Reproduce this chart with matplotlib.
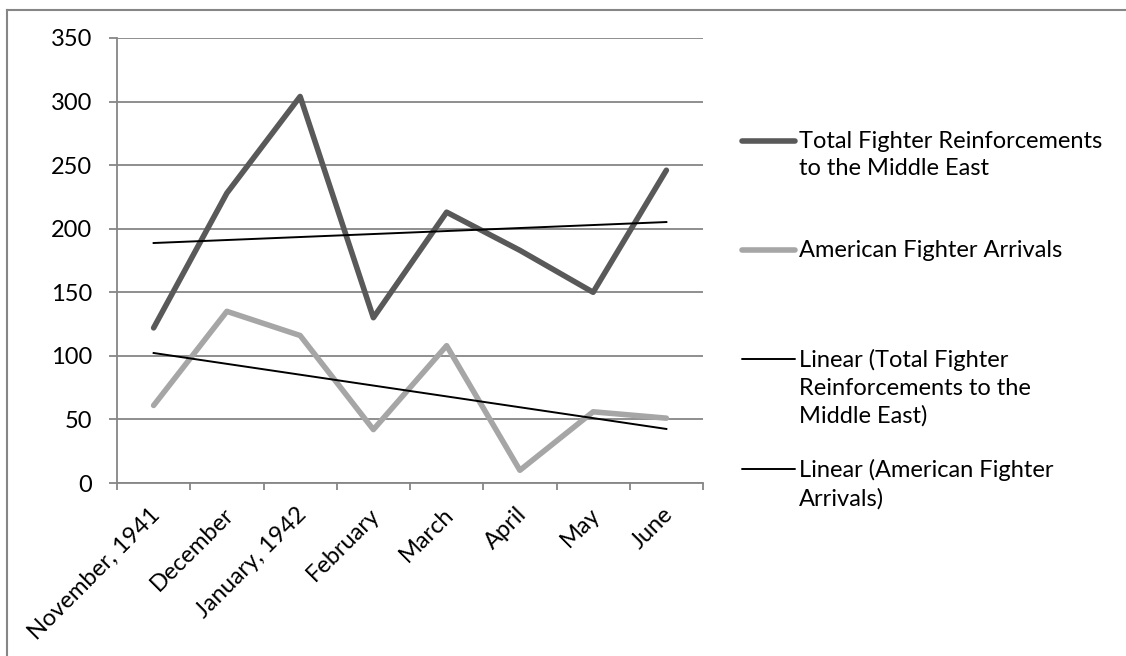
import numpy as np
import matplotlib.pyplot as plt
from matplotlib.lines import Line2D

plt.rcParams['font.family'] = ['Lato', 'DejaVu Sans']

meses = ['November, 1941', 'December', 'January, 1942', 'February',
         'March', 'April', 'May', 'June']
total_refuerzos = [122, 228, 304, 130, 213, 183, 150, 246]
cazas_americanos = [61, 135, 116, 42, 108, 10, 56, 51]

etiquetas = ['Total Fighter Reinforcements\nto the Middle East',
             'American Fighter Arrivals',
             'Linear (Total Fighter\nReinforcements to the\nMiddle East)',
             'Linear (American Fighter\nArrivals)']

W, H = 1126, 656
fig = plt.figure(figsize=(W / 100, H / 100), dpi=100)
ax = fig.add_axes([117 / W, 1 - 483 / H, (703 - 117) / W, (483 - 38) / H])

x = np.arange(len(meses))
gris_oscuro = '#595959'
gris_claro = '#a6a6a6'
gris_rejilla = '#868686'
tam = 17

# Series principales
ax.plot(x, total_refuerzos, color=gris_oscuro, lw=4, solid_capstyle='round', zorder=3)
ax.plot(x, cazas_americanos, color=gris_claro, lw=4, solid_capstyle='round', zorder=3)

# Lineas de tendencia
for serie in (total_refuerzos, cazas_americanos):
    m, b = np.polyfit(x, serie, 1)
    ax.plot(x, m * x + b, color='black', lw=1.4, zorder=4)

ax.set_xlim(-0.5, len(meses) - 0.5)
ax.set_ylim(0, 350)
ax.set_yticks(np.arange(0, 351, 50))
ax.yaxis.grid(True, color=gris_rejilla, lw=1.3)
ax.set_axisbelow(True)

# Marcas del eje x entre categorias
ax.set_xticks(np.arange(-0.5, len(meses), 1.0))
ax.set_xticklabels([])
ax.tick_params(axis='x', length=5, color=gris_rejilla, width=1.3)
ax.tick_params(axis='y', length=6, color=gris_rejilla, width=1.3, labelsize=tam, pad=12)
for i, mes in enumerate(meses):
    ax.annotate(mes, xy=(i, 0), xycoords='data', xytext=(-3, -15),
                textcoords='offset points', rotation=45, ha='right', va='top',
                rotation_mode='anchor', fontsize=tam)

for lado in ('top', 'right'):
    ax.spines[lado].set_visible(False)
for lado in ('left', 'bottom'):
    ax.spines[lado].set_color(gris_rejilla)
    ax.spines[lado].set_linewidth(1.3)

# Leyenda dibujada a mano
estilos = [(gris_oscuro, 4), (gris_claro, 4), ('black', 1.4), ('black', 1.4)]
filas_y = [141, 250, 359, 469]
for (color, lw), etiqueta, py in zip(estilos, etiquetas, filas_y):
    fig.add_artist(Line2D([742 / W, 795 / W], [1 - py / H, 1 - py / H],
                          color=color, lw=lw, solid_capstyle='round'))
    fig.text(799 / W, 1 - (py - 10) / H, etiqueta, fontsize=tam, va='top',
             ha='left', linespacing=1.38)

# Borde del area del grafico (solo asoman el superior y el izquierdo)
fig.add_artist(Line2D([7 / W, 1], [1 - 10 / H, 1 - 10 / H], color=gris_rejilla, lw=1.5))
fig.add_artist(Line2D([7 / W, 7 / W], [0, 1 - 10 / H], color=gris_rejilla, lw=1.5))

fig.savefig('out.png', dpi=100)
